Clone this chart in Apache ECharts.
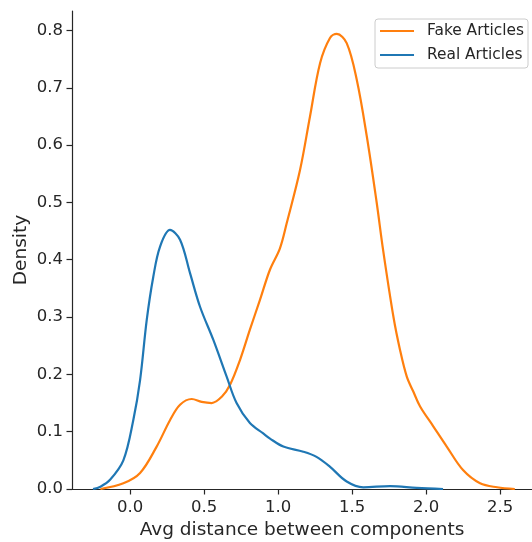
<!DOCTYPE html>
<html>
<head>
<meta charset="utf-8">
<script src="https://cdn.jsdelivr.net/npm/echarts@6/dist/echarts.min.js"></script>
<style>
  html, body { margin: 0; padding: 0; background: #fff; }
  #chart { width: 532px; height: 542px; }
</style>
</head>
<body>
<div id="chart"></div>
<script>
// density curves, [x, density]
var fakeArticles = [
    [-0.2, 0], [-0.045, 0.01], [0.068, 0.028], [0.18, 0.074], [0.27, 0.12],
    [0.338, 0.147], [0.417, 0.157], [0.484, 0.152], [0.552, 0.15], [0.62, 0.161],
    [0.676, 0.182], [0.743, 0.225], [0.81, 0.278], [0.878, 0.33], [0.946, 0.383],
    [1.013, 0.42], [1.059, 0.464], [1.149, 0.557], [1.216, 0.65], [1.284, 0.743],
    [1.351, 0.787], [1.397, 0.794], [1.464, 0.778], [1.532, 0.714], [1.6, 0.615],
    [1.667, 0.499], [1.71, 0.417], [1.78, 0.30], [1.824, 0.243], [1.87, 0.196],
    [1.914, 0.17], [1.96, 0.144], [2.05, 0.109], [2.14, 0.074], [2.25, 0.033],
    [2.365, 0.01], [2.48, 0.003], [2.6, 0]
];
var realArticles = [
    [-0.25, 0], [-0.2, 0.004], [-0.135, 0.016], [-0.045, 0.05], [0.022, 0.12],
    [0.068, 0.19], [0.113, 0.295], [0.157, 0.37], [0.203, 0.423], [0.27, 0.452],
    [0.338, 0.435], [0.405, 0.377], [0.473, 0.318], [0.563, 0.26], [0.653, 0.196],
    [0.72, 0.15], [0.81, 0.115], [0.90, 0.097], [0.946, 0.088], [1.036, 0.074],
    [1.171, 0.065], [1.26, 0.056], [1.35, 0.039], [1.464, 0.013], [1.576, 0.003],
    [1.757, 0.005], [1.937, 0.002], [2.115, 0]
];
var xTicks = [0, 0.5, 1.0, 1.5, 2.0, 2.5];
var yTicks = [0, 0.1, 0.2, 0.3, 0.4, 0.5, 0.6, 0.7, 0.8];

var ink = '#262626';
var font = 'DejaVu Sans';

var chart = echarts.init(document.getElementById('chart'));

var option = {
    animation: false,
    backgroundColor: '#fff',
    grid: { left: 72, right: 0, top: 11, bottom: 53, containLabel: false, outerBoundsMode: 'none' },
    legend: {
        orient: 'vertical',
        right: 4,
        top: 19,
        padding: [3, 4, 4, 5],
        icon: 'rect',
        itemWidth: 34,
        itemHeight: 2.2,
        itemGap: 6,
        backgroundColor: 'rgba(255,255,255,0.8)',
        borderColor: '#cccccc',
        borderWidth: 1,
        borderRadius: 3,
        textStyle: { fontFamily: font, fontSize: 15.4, color: ink, lineHeight: 18, padding: [0, 0, 0, 8] },
        data: ['Fake Articles', 'Real Articles']
    },
    xAxis: {
        type: 'value',
        min: -0.392,
        max: 2.716,
        name: 'Avg distance between components',
        nameLocation: 'middle',
        nameGap: 29,
        nameTextStyle: { fontFamily: font, fontSize: 18.5, color: ink },
        splitLine: { show: false },
        axisLine: { show: true, onZero: false, lineStyle: { color: ink, width: 1.2 } },
        axisTick: { show: true, length: 5.5, lineStyle: { color: ink, width: 1.2 }, customValues: xTicks },
        axisLabel: {
            fontFamily: font, fontSize: 16.5, color: ink, margin: 10,
            customValues: xTicks,
            formatter: function (v) { return v.toFixed(1); }
        }
    },
    yAxis: {
        type: 'value',
        min: 0,
        max: 0.834,
        name: 'Density',
        nameLocation: 'middle',
        nameGap: 41,
        nameMoveOverlap: false,
        nameTextStyle: { fontFamily: font, fontSize: 18.5, color: ink },
        splitLine: { show: false },
        axisLine: { show: true, onZero: false, lineStyle: { color: ink, width: 1.2 } },
        axisTick: { show: true, length: 5.5, lineStyle: { color: ink, width: 1.2 }, customValues: yTicks },
        axisLabel: {
            fontFamily: font, fontSize: 16.5, color: ink, margin: 9,
            customValues: yTicks,
            formatter: function (v) { return v.toFixed(1); }
        }
    },
    series: [
        {
            name: 'Fake Articles',
            type: 'line',
            data: fakeArticles,
            smooth: 0.35,
            symbol: 'none',
            lineStyle: { color: '#ff7f0e', width: 2.2 },
            itemStyle: { color: '#ff7f0e' }
        },
        {
            name: 'Real Articles',
            type: 'line',
            data: realArticles,
            smooth: 0.35,
            symbol: 'none',
            lineStyle: { color: '#1f77b4', width: 2.2 },
            itemStyle: { color: '#1f77b4' }
        }
    ]
};

chart.setOption(option);
window.addEventListener('resize', chart.resize);
</script>
</body>
</html>
